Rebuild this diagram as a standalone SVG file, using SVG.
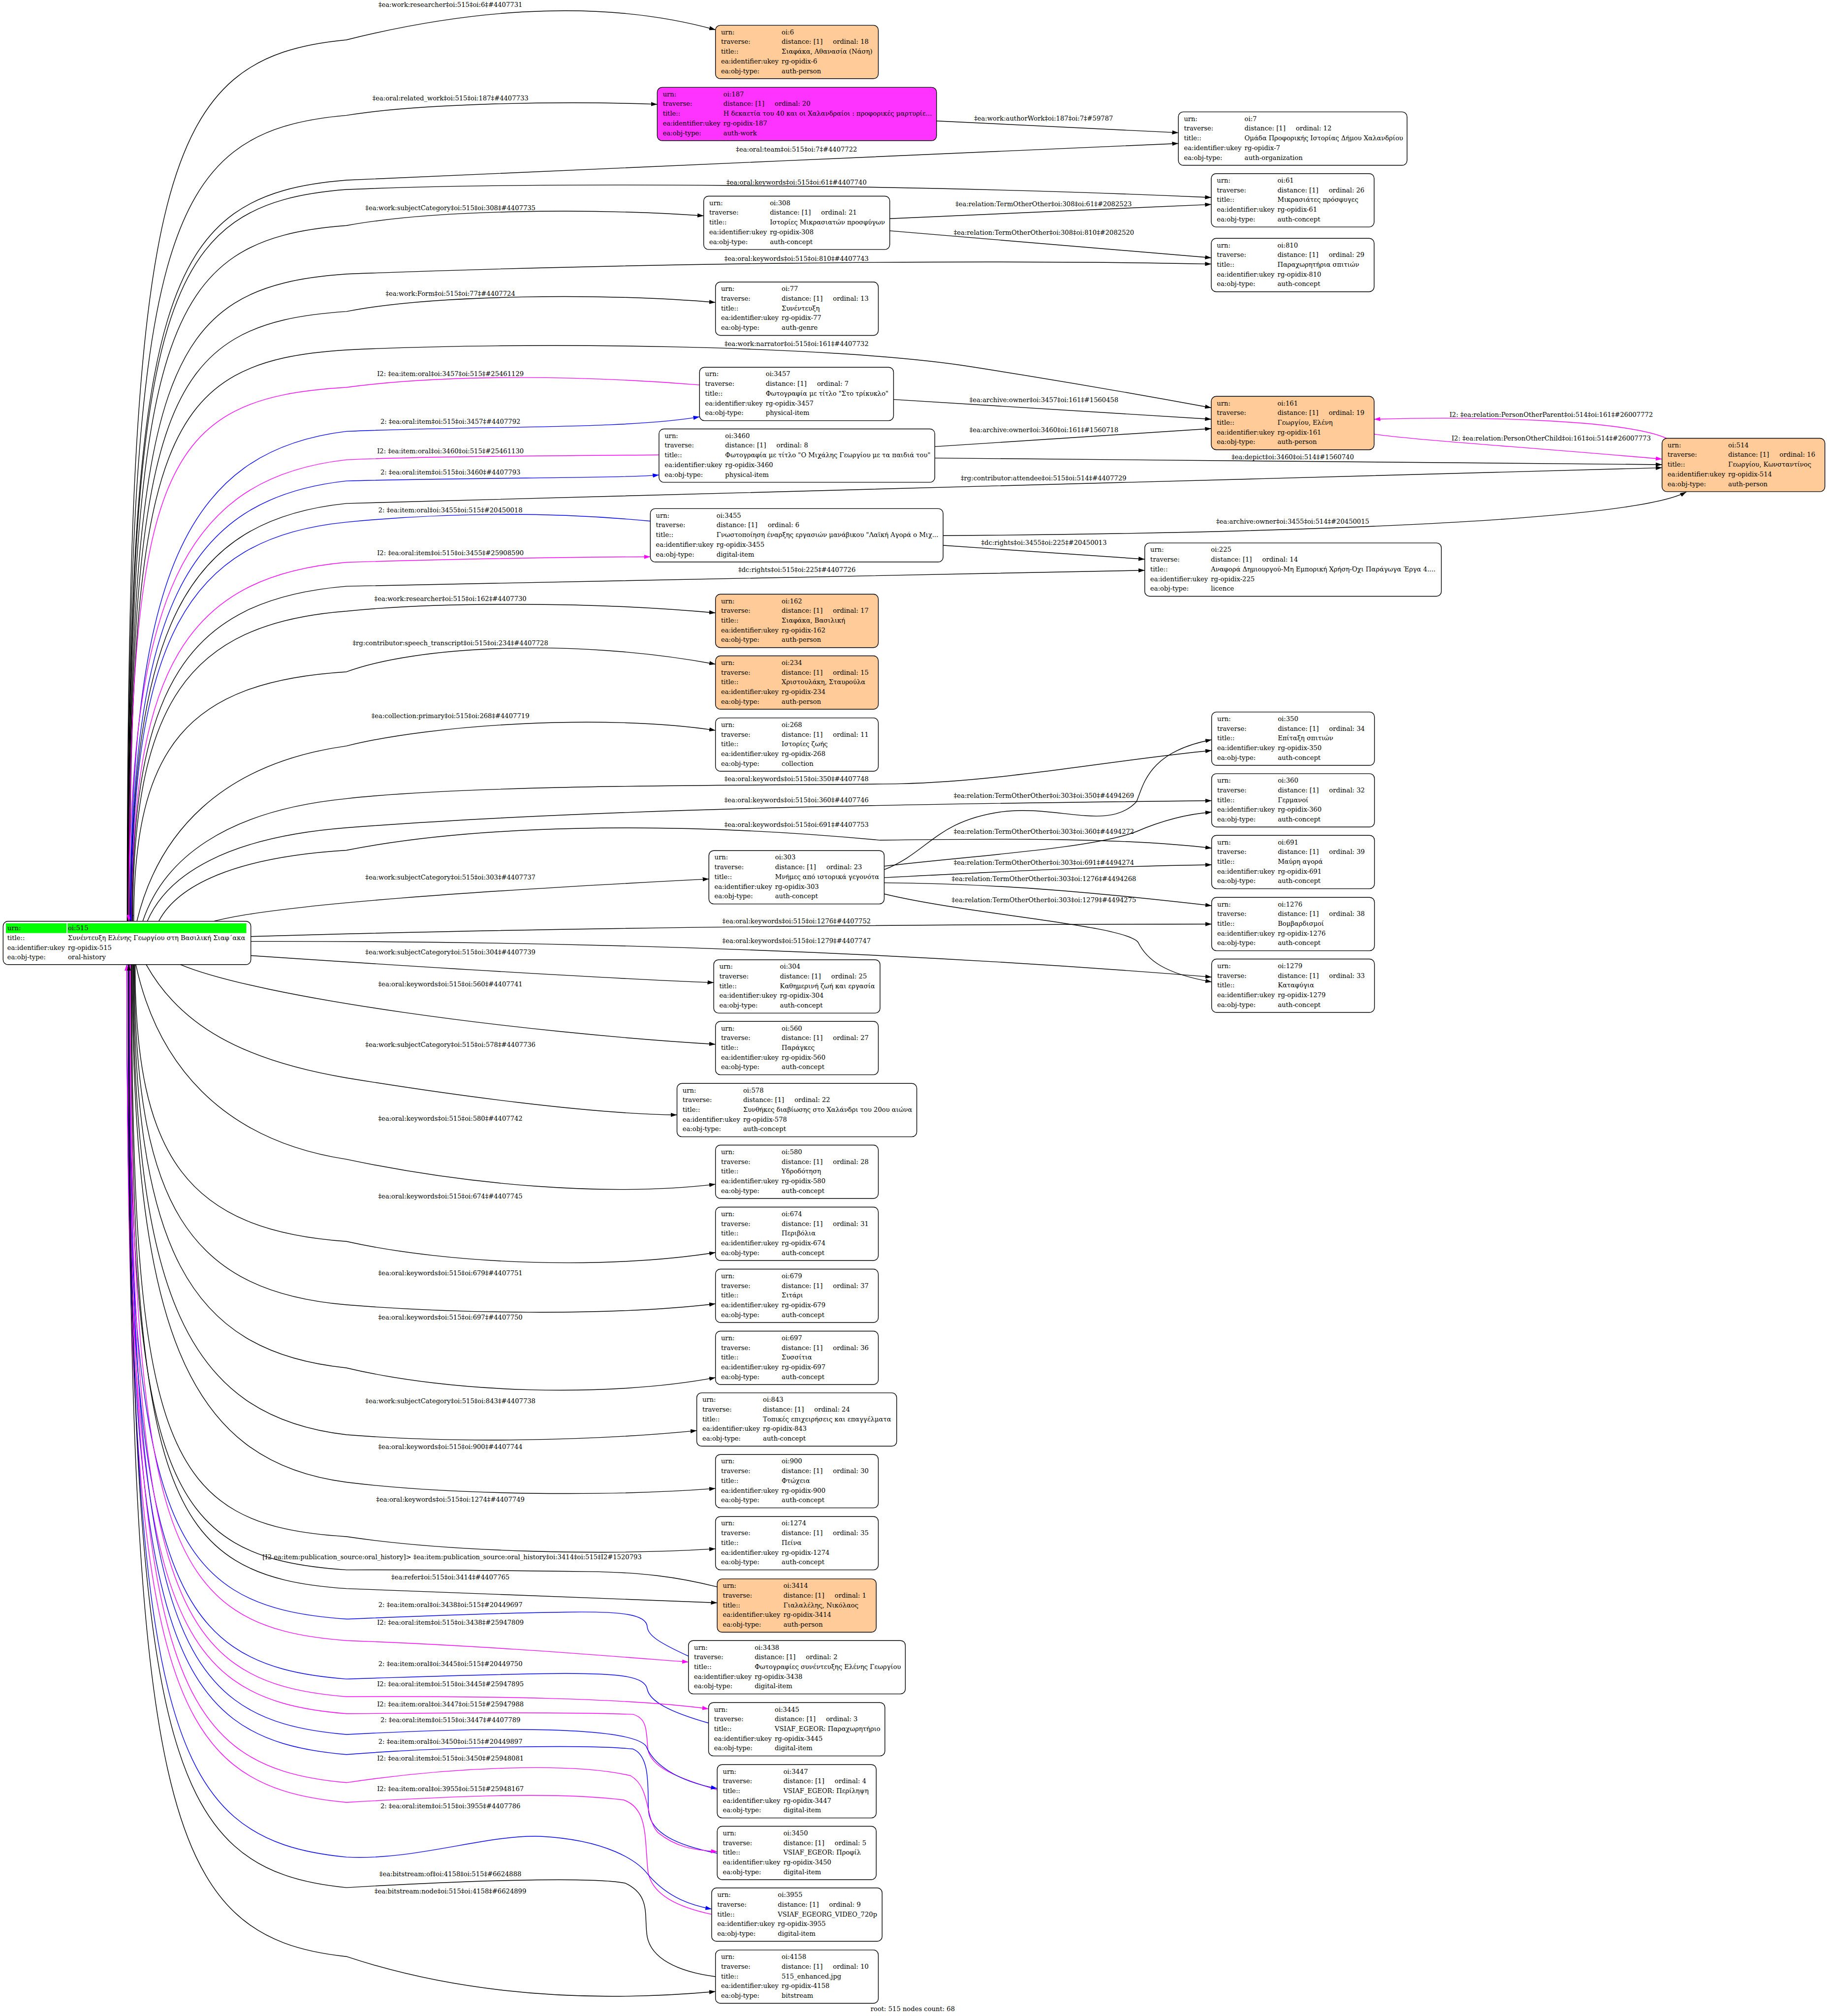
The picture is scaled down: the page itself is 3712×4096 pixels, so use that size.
<svg xmlns="http://www.w3.org/2000/svg" width="3712" height="4096" viewBox="0 0 3712 4096">
<style>
text{font-family:"DejaVu Serif",serif;font-size:18.67px;fill:#000}
.lb{text-anchor:middle}
.nb{fill:#fff;stroke:#000;stroke-width:2}
.pe{fill:#ffcc99}
.mg{fill:#ff33ff}
.e{fill:none;stroke:#000;stroke-width:2;marker-end:url(#ab)}
.b{stroke:#00f;marker-end:url(#au)}
.m{stroke:#f0f;marker-end:url(#am)}
</style>
<defs>
<marker id="ab" markerUnits="userSpaceOnUse" markerWidth="18" markerHeight="12" refX="18" refY="6" orient="auto" viewBox="0 0 18 12"><path d="M0,0 L18,6 L0,12 z" fill="#000"/></marker>
<marker id="au" markerUnits="userSpaceOnUse" markerWidth="18" markerHeight="12" refX="18" refY="6" orient="auto" viewBox="0 0 18 12"><path d="M0,0 L18,6 L0,12 z" fill="#00f"/></marker>
<marker id="am" markerUnits="userSpaceOnUse" markerWidth="18" markerHeight="12" refX="18" refY="6" orient="auto" viewBox="0 0 18 12"><path d="M0,0 L18,6 L0,12 z" fill="#f0f"/></marker>
</defs>
<rect width="3712" height="4096" fill="#fff"/>
<g transform="scale(0.70395)">
<g id="edges">
<path class="e" d="M367,2659 C367,497 462,166 1000,115 C1300,40 1700,-15 2065,86"/>
<path class="e" d="M368,2659 C368,682 463,380 1000,333 C1200,300 1600,290 1897,301"/>
<path class="e" d="M369,2659 C369,841 464,563 1000,520 C1500,498 2800,440 3401,414"/>
<path class="e" d="M2703,349 L3401,383"/>
<path class="e" d="M370,2659 C370,864 465,589 1000,547 C1500,525 2600,530 3496,570"/>
<path class="e" d="M371,2659 C371,952 465,691 1000,651 C1250,605 1700,600 2031,623"/>
<path class="e" d="M2568,631 L3496,590"/>
<path class="e" d="M2568,666 L3496,744"/>
<path class="e" d="M372,2659 C372,1071 466,828 1000,791 C1800,760 2800,748 3496,762"/>
<path class="e" d="M373,2659 C373,1163 467,934 1000,899 C1250,850 1750,845 2065,873"/>
<path class="e" d="M374,2659 C374,1257 468,1043 1000,1010 C1500,985 2400,995 2800,1058 C3100,1105 3350,1150 3496,1177"/>
<path class="e m" d="M2019,1111 C1700,1085 1300,1078 1000,1118 C465,1149 372,1349 372,2659"/>
<path class="e b" d="M376,2659 C376,1669 532,1302 1000,1245 C1400,1228 1800,1240 2019,1203"/>
<path class="e" d="M2579,1153 L3496,1210"/>
<path class="e m" d="M1902,1313 C1500,1316 1200,1318 1000,1327 C529,1380 372,1727 372,2659"/>
<path class="e b" d="M377,2659 C377,1769 533,1439 1000,1388 C1400,1378 1800,1380 1902,1371"/>
<path class="e" d="M2698,1289 L3496,1237"/>
<path class="e" d="M2698,1322 L4797,1341"/>
<path class="e" d="M378,2659 C378,1815 534,1501 1000,1453 C2000,1428 3500,1385 4797,1350"/>
<path class="e m" d="M4810,1265 C4700,1215 4300,1200 3966,1210"/>
<path class="e m" d="M3966,1253 C4080,1270 4400,1290 4797,1325"/>
<path class="e b" d="M1877,1504 C1600,1478 1300,1478 1000,1507 C534,1553 379,1853 379,2659"/>
<path class="e m" d="M380,2659 C380,1934 535,1664 1000,1623 C1400,1610 1700,1608 1877,1607"/>
<path class="e" d="M2722,1546 C3600,1540 4700,1510 4867,1420"/>
<path class="e" d="M2722,1574 L3304,1614"/>
<path class="e" d="M381,2659 C381,1982 536,1731 1000,1692 C1800,1672 2600,1660 3304,1646"/>
<path class="e" d="M383,2659 C383,2033 537,1800 1000,1764 C1250,1738 1700,1735 2065,1769"/>
<path class="e" d="M386,2659 C386,2155 540,1968 1000,1939 C1200,1865 1650,1840 2065,1917"/>
<path class="e" d="M395,2659 C456,2406 637,2204 1000,2153 C1250,2090 1750,2060 2065,2108"/>
<path class="e" d="M412,2659 C471,2482 647,2340 1000,2305 C1400,2260 2300,2268 2600,2262 C2900,2255 3200,2195 3497,2166"/>
<path class="e" d="M425,2659 C483,2524 655,2416 1000,2389 C1700,2335 2600,2320 3497,2311"/>
<path class="e" d="M458,2659 C512,2556 675,2474 1000,2454 C1350,2385 1900,2365 2540,2425 C2900,2420 3250,2418 3497,2448"/>
<path class="e" d="M617,2659 C800,2610 1400,2570 2046,2537"/>
<path class="e" d="M2552,2510 C2680,2460 2700,2370 2891,2343 C3050,2322 3200,2400 3280,2314 C3300,2270 3310,2170 3497,2135"/>
<path class="e" d="M2552,2500 C2800,2470 3150,2450 3280,2400 C3350,2370 3420,2350 3497,2344"/>
<path class="e" d="M2552,2533 C2900,2515 3200,2500 3497,2496"/>
<path class="e" d="M2552,2548 C2900,2550 3200,2580 3497,2614"/>
<path class="e" d="M2552,2580 C2800,2640 3250,2670 3285,2720 C3310,2770 3360,2810 3497,2834"/>
<path class="e" d="M724,2703 C1500,2680 2500,2668 3497,2667"/>
<path class="e" d="M724,2717 C1800,2715 2700,2755 3497,2820"/>
<path class="e" d="M724,2758 C1200,2790 1700,2822 2060,2836"/>
<path class="e" d="M521,2784 C750,2880 1500,2980 2065,3014"/>
<path class="e" d="M422,2784 C520,2960 700,3060 1000,3111 C1300,3160 1700,3215 1954,3218"/>
<path class="e" d="M392,2784 C453,3065 635,3290 1000,3346 C1350,3420 1750,3455 2065,3418"/>
<path class="e" d="M390,2784 C390,3343 543,3551 1000,3583 C1300,3650 1750,3665 2065,3615"/>
<path class="e" d="M388,2784 C388,3471 541,3727 1000,3766 C1300,3790 1750,3800 2065,3763"/>
<path class="e" d="M386,2784 C386,3599 540,3901 1000,3948 C1300,4020 1750,4035 2065,3976"/>
<path class="e" d="M384,2784 C384,3734 538,4087 1000,4141 C1300,4165 1700,4160 2011,4129"/>
<path class="e" d="M382,2784 C382,3830 537,4218 1000,4278 C1300,4315 1750,4320 2065,4296"/>
<path class="e" d="M380,2784 C380,4187 473,4402 1000,4435 C1300,4480 1750,4490 2065,4470"/>
<path class="e" d="M2070,4580 C1950,4550 1850,4538 1700,4536 C1400,4532 1200,4530 1000,4531 C466,4496 372,4269 372,2784"/>
<path class="e" d="M378,2784 C378,4315 471,4549 1000,4585 C1400,4600 1800,4615 2070,4626"/>
<path class="e b" d="M1987,4780 C1900,4740 1870,4720 1868,4695 C1866,4660 1800,4650 1631,4653 C1400,4656 1200,4665 1000,4673 C461,4635 366,4390 366,2784"/>
<path class="e m" d="M376,2784 C376,4442 470,4696 1000,4735 C1400,4750 1700,4775 1987,4797"/>
<path class="e b" d="M2045,4973 C1930,4940 1875,4910 1868,4875 C1860,4840 1800,4830 1631,4830 C1400,4832 1200,4840 1000,4846 C461,4805 366,4537 366,2784"/>
<path class="e m" d="M374,2784 C374,4580 468,4855 1000,4897 C1400,4895 1800,4900 2045,4932"/>
<path class="e m" d="M2070,5166 C1950,5130 1880,5100 1870,5050 C1865,5000 1870,4960 1827,4948 C1600,4940 1200,4945 1000,4946 C461,4903 366,4622 366,2784"/>
<path class="e b" d="M373,2784 C373,4673 467,4962 1000,5006 C1400,4985 1820,4980 1865,5040 C1885,5090 1950,5140 2070,5162"/>
<path class="e b" d="M2070,5349 C1950,5325 1880,5290 1872,5230 C1868,5170 1880,5070 1827,5048 C1700,5035 1300,5040 1000,5064 C461,5018 366,4722 366,2784"/>
<path class="e m" d="M372,2784 C372,4791 466,5098 1000,5145 C1300,5100 1650,5085 1820,5125 C1880,5160 1860,5250 1900,5290 C1950,5330 2000,5340 2070,5344"/>
<path class="e m" d="M2054,5525 C1960,5505 1880,5470 1870,5400 C1860,5300 1870,5220 1800,5195 C1600,5170 1300,5185 1000,5202 C461,5154 366,4839 366,2784"/>
<path class="e b" d="M371,2784 C371,4974 465,5308 1000,5360 C1200,5370 1400,5295 1560,5300 C1750,5310 1840,5370 1870,5410 C1930,5480 2000,5500 2054,5510"/>
<path class="e" d="M2065,5705 C1950,5690 1880,5650 1868,5590 C1858,5530 1880,5470 1804,5435 C1700,5415 1300,5430 1000,5448 C466,5395 372,5048 372,2784"/>
<path class="e" d="M370,2784 C370,5218 464,5590 1000,5647 C1250,5730 1600,5790 2065,5748"/>
</g>
<g id="edge-labels" class="lb">
<text x="1300" y="20">‡ea:work:researcher‡oi:515‡oi:6‡#4407731</text>
<text x="1300" y="290">‡ea:oral:related_work‡oi:515‡oi:187‡#4407733</text>
<text x="3012" y="348">‡ea:work:authorWork‡oi:187‡oi:7‡#59787</text>
<text x="2299" y="438">‡ea:oral:team‡oi:515‡oi:7‡#4407722</text>
<text x="2299" y="532">‡ea:oral:keywords‡oi:515‡oi:61‡#4407740</text>
<text x="1300" y="606">‡ea:work:subjectCategory‡oi:515‡oi:308‡#4407735</text>
<text x="3012" y="595">‡ea:relation:TermOtherOther‡oi:308‡oi:61‡#2082523</text>
<text x="3013" y="678">‡ea:relation:TermOtherOther‡oi:308‡oi:810‡#2082520</text>
<text x="2299" y="753">‡ea:oral:keywords‡oi:515‡oi:810‡#4407743</text>
<text x="1300" y="854">‡ea:work:Form‡oi:515‡oi:77‡#4407724</text>
<text x="2299" y="999">‡ea:work:narrator‡oi:515‡oi:161‡#4407732</text>
<text x="1300" y="1085">I2: ‡ea:item:oral‡oi:3457‡oi:515‡#25461129</text>
<text x="3013" y="1160">‡ea:archive:owner‡oi:3457‡oi:161‡#1560458</text>
<text x="4477" y="1203">I2: ‡ea:relation:PersonOtherParent‡oi:514‡oi:161‡#26007772</text>
<text x="1300" y="1223">2: ‡ea:oral:item‡oi:515‡oi:3457‡#4407792</text>
<text x="3013" y="1247">‡ea:archive:owner‡oi:3460‡oi:161‡#1560718</text>
<text x="4477" y="1272">I2: ‡ea:relation:PersonOtherChild‡oi:161‡oi:514‡#26007773</text>
<text x="1300" y="1309">I2: ‡ea:item:oral‡oi:3460‡oi:515‡#25461130</text>
<text x="3731" y="1326">‡ea:depict‡oi:3460‡oi:514‡#1560740</text>
<text x="1300" y="1369">2: ‡ea:oral:item‡oi:515‡oi:3460‡#4407793</text>
<text x="3012" y="1387">‡rg:contributor:attendee‡oi:515‡oi:514‡#4407729</text>
<text x="1300" y="1479">2: ‡ea:item:oral‡oi:3455‡oi:515‡#20450018</text>
<text x="3731" y="1511">‡ea:archive:owner‡oi:3455‡oi:514‡#20450015</text>
<text x="3013" y="1572">‡dc:rights‡oi:3455‡oi:225‡#20450013</text>
<text x="1300" y="1602">I2: ‡ea:oral:item‡oi:515‡oi:3455‡#25908590</text>
<text x="2300" y="1650">‡dc:rights‡oi:515‡oi:225‡#4407726</text>
<text x="1300" y="1735">‡ea:work:researcher‡oi:515‡oi:162‡#4407730</text>
<text x="1300" y="1862">‡rg:contributor:speech_transcript‡oi:515‡oi:234‡#4407728</text>
<text x="1300" y="2073">‡ea:collection:primary‡oi:515‡oi:268‡#4407719</text>
<text x="2299" y="2254">‡ea:oral:keywords‡oi:515‡oi:350‡#4407748</text>
<text x="3013" y="2303">‡ea:relation:TermOtherOther‡oi:303‡oi:350‡#4494269</text>
<text x="2299" y="2315">‡ea:oral:keywords‡oi:515‡oi:360‡#4407746</text>
<text x="2299" y="2386">‡ea:oral:keywords‡oi:515‡oi:691‡#4407753</text>
<text x="3013" y="2406">‡ea:relation:TermOtherOther‡oi:303‡oi:360‡#4494272</text>
<text x="3013" y="2496">‡ea:relation:TermOtherOther‡oi:303‡oi:691‡#4494274</text>
<text x="1300" y="2538">‡ea:work:subjectCategory‡oi:515‡oi:303‡#4407737</text>
<text x="3013" y="2543">‡ea:relation:TermOtherOther‡oi:303‡oi:1276‡#4494268</text>
<text x="3013" y="2604">‡ea:relation:TermOtherOther‡oi:303‡oi:1279‡#4494275</text>
<text x="2299" y="2665">‡ea:oral:keywords‡oi:515‡oi:1276‡#4407752</text>
<text x="2299" y="2722">‡ea:oral:keywords‡oi:515‡oi:1279‡#4407747</text>
<text x="1300" y="2755">‡ea:work:subjectCategory‡oi:515‡oi:304‡#4407739</text>
<text x="1300" y="2847">‡ea:oral:keywords‡oi:515‡oi:560‡#4407741</text>
<text x="1300" y="3021">‡ea:work:subjectCategory‡oi:515‡oi:578‡#4407736</text>
<text x="1300" y="3235">‡ea:oral:keywords‡oi:515‡oi:580‡#4407742</text>
<text x="1300" y="3459">‡ea:oral:keywords‡oi:515‡oi:674‡#4407745</text>
<text x="1300" y="3681">‡ea:oral:keywords‡oi:515‡oi:679‡#4407751</text>
<text x="1300" y="3809">‡ea:oral:keywords‡oi:515‡oi:697‡#4407750</text>
<text x="1300" y="4050">‡ea:work:subjectCategory‡oi:515‡oi:843‡#4407738</text>
<text x="1300" y="4182">‡ea:oral:keywords‡oi:515‡oi:900‡#4407744</text>
<text x="1300" y="4334">‡ea:oral:keywords‡oi:515‡oi:1274‡#4407749</text>
<text x="1852" y="4501" style="text-anchor:end">[I2 ea:item:publication_source:oral_history]&gt; ‡ea:item:publication_source:oral_history‡oi:3414‡oi:515‡I2#1520793</text>
<text x="1300" y="4558">‡ea:refer‡oi:515‡oi:3414‡#4407765</text>
<text x="1300" y="4638">2: ‡ea:item:oral‡oi:3438‡oi:515‡#20449697</text>
<text x="1300" y="4689">I2: ‡ea:oral:item‡oi:515‡oi:3438‡#25947809</text>
<text x="1300" y="4809">2: ‡ea:item:oral‡oi:3445‡oi:515‡#20449750</text>
<text x="1300" y="4867">I2: ‡ea:oral:item‡oi:515‡oi:3445‡#25947895</text>
<text x="1300" y="4925">I2: ‡ea:item:oral‡oi:3447‡oi:515‡#25947988</text>
<text x="1300" y="4971">2: ‡ea:oral:item‡oi:515‡oi:3447‡#4407789</text>
<text x="1300" y="5033">2: ‡ea:item:oral‡oi:3450‡oi:515‡#20449897</text>
<text x="1300" y="5082">I2: ‡ea:oral:item‡oi:515‡oi:3450‡#25948081</text>
<text x="1300" y="5170">I2: ‡ea:item:oral‡oi:3955‡oi:515‡#25948167</text>
<text x="1300" y="5219">2: ‡ea:oral:item‡oi:515‡oi:3955‡#4407786</text>
<text x="1300" y="5415">‡ea:bitstream:of‡oi:4158‡oi:515‡#6624888</text>
<text x="1300" y="5465">‡ea:bitstream:node‡oi:515‡oi:4158‡#6624899</text>
</g>
<g id="node-oi515" transform="translate(9,2659)">
<rect class="nb" width="715" height="125" rx="14"/>
<rect x="8" y="6" width="175" height="28" fill="#00ff00"/>
<rect x="186" y="6" width="516" height="28" fill="#00ff00"/>
<text><tspan x="12" y="26">urn:</tspan><tspan x="187" y="26">oi:515</tspan><tspan x="12" y="54">title::</tspan><tspan x="187" y="54">Συνέντευξη Ελένης Γεωργίου στη Βασιλική Σιαφ΄ακα</tspan><tspan x="12" y="82">ea:identifier:ukey</tspan><tspan x="187" y="82">rg-opidix-515</tspan><tspan x="12" y="110">ea:obj-type:</tspan><tspan x="187" y="110">oral-history</tspan></text>
</g>
<g id="node-oi6" transform="translate(2065,73)"><rect class="nb pe" width="470" height="154" rx="14"/><text><tspan x="16" y="26">urn:</tspan><tspan x="191" y="26">oi:6</tspan><tspan x="16" y="54">traverse:</tspan><tspan x="191" y="54">distance: [1]</tspan><tspan x="339" y="54">ordinal: 18</tspan><tspan x="16" y="82">title::</tspan><tspan x="191" y="82">Σιαφάκα, Αθανασία (Νάση)</tspan><tspan x="16" y="110">ea:identifier:ukey</tspan><tspan x="191" y="110">rg-opidix-6</tspan><tspan x="16" y="138">ea:obj-type:</tspan><tspan x="191" y="138">auth-person</tspan></text></g>
<g id="node-oi187" transform="translate(1897,252)"><rect class="nb mg" width="806" height="154" rx="14"/><text><tspan x="16" y="26">urn:</tspan><tspan x="191" y="26">oi:187</tspan><tspan x="16" y="54">traverse:</tspan><tspan x="191" y="54">distance: [1]</tspan><tspan x="339" y="54">ordinal: 20</tspan><tspan x="16" y="82">title::</tspan><tspan x="191" y="82">Η δεκαετία του 40 και οι Χαλανδραίοι : προφορικές μαρτυρίε...</tspan><tspan x="16" y="110">ea:identifier:ukey</tspan><tspan x="191" y="110">rg-opidix-187</tspan><tspan x="16" y="138">ea:obj-type:</tspan><tspan x="191" y="138">auth-work</tspan></text></g>
<g id="node-oi7" transform="translate(3401,323)"><rect class="nb" width="660" height="154" rx="14"/><text><tspan x="16" y="26">urn:</tspan><tspan x="191" y="26">oi:7</tspan><tspan x="16" y="54">traverse:</tspan><tspan x="191" y="54">distance: [1]</tspan><tspan x="339" y="54">ordinal: 12</tspan><tspan x="16" y="82">title::</tspan><tspan x="191" y="82">Ομάδα Προφορικής Ιστορίας Δήμου Χαλανδρίου</tspan><tspan x="16" y="110">ea:identifier:ukey</tspan><tspan x="191" y="110">rg-opidix-7</tspan><tspan x="16" y="138">ea:obj-type:</tspan><tspan x="191" y="138">auth-organization</tspan></text></g>
<g id="node-oi61" transform="translate(3496,501)"><rect class="nb" width="470" height="154" rx="14"/><text><tspan x="16" y="26">urn:</tspan><tspan x="191" y="26">oi:61</tspan><tspan x="16" y="54">traverse:</tspan><tspan x="191" y="54">distance: [1]</tspan><tspan x="339" y="54">ordinal: 26</tspan><tspan x="16" y="82">title::</tspan><tspan x="191" y="82">Μικρασιάτες πρόσφυγες</tspan><tspan x="16" y="110">ea:identifier:ukey</tspan><tspan x="191" y="110">rg-opidix-61</tspan><tspan x="16" y="138">ea:obj-type:</tspan><tspan x="191" y="138">auth-concept</tspan></text></g>
<g id="node-oi308" transform="translate(2031,566)"><rect class="nb" width="537" height="154" rx="14"/><text><tspan x="16" y="26">urn:</tspan><tspan x="191" y="26">oi:308</tspan><tspan x="16" y="54">traverse:</tspan><tspan x="191" y="54">distance: [1]</tspan><tspan x="339" y="54">ordinal: 21</tspan><tspan x="16" y="82">title::</tspan><tspan x="191" y="82">Ιστορίες Μικρασιατών προσφύγων</tspan><tspan x="16" y="110">ea:identifier:ukey</tspan><tspan x="191" y="110">rg-opidix-308</tspan><tspan x="16" y="138">ea:obj-type:</tspan><tspan x="191" y="138">auth-concept</tspan></text></g>
<g id="node-oi810" transform="translate(3496,688)"><rect class="nb" width="470" height="154" rx="14"/><text><tspan x="16" y="26">urn:</tspan><tspan x="191" y="26">oi:810</tspan><tspan x="16" y="54">traverse:</tspan><tspan x="191" y="54">distance: [1]</tspan><tspan x="339" y="54">ordinal: 29</tspan><tspan x="16" y="82">title::</tspan><tspan x="191" y="82">Παραχωρητήρια σπιτιών</tspan><tspan x="16" y="110">ea:identifier:ukey</tspan><tspan x="191" y="110">rg-opidix-810</tspan><tspan x="16" y="138">ea:obj-type:</tspan><tspan x="191" y="138">auth-concept</tspan></text></g>
<g id="node-oi77" transform="translate(2065,814)"><rect class="nb" width="470" height="154" rx="14"/><text><tspan x="16" y="26">urn:</tspan><tspan x="191" y="26">oi:77</tspan><tspan x="16" y="54">traverse:</tspan><tspan x="191" y="54">distance: [1]</tspan><tspan x="339" y="54">ordinal: 13</tspan><tspan x="16" y="82">title::</tspan><tspan x="191" y="82">Συνέντευξη</tspan><tspan x="16" y="110">ea:identifier:ukey</tspan><tspan x="191" y="110">rg-opidix-77</tspan><tspan x="16" y="138">ea:obj-type:</tspan><tspan x="191" y="138">auth-genre</tspan></text></g>
<g id="node-oi3457" transform="translate(2019,1060)"><rect class="nb" width="560" height="154" rx="14"/><text><tspan x="16" y="26">urn:</tspan><tspan x="191" y="26">oi:3457</tspan><tspan x="16" y="54">traverse:</tspan><tspan x="191" y="54">distance: [1]</tspan><tspan x="339" y="54">ordinal: 7</tspan><tspan x="16" y="82">title::</tspan><tspan x="191" y="82">Φωτογραφία με τίτλο "Στο τρίκυκλο"</tspan><tspan x="16" y="110">ea:identifier:ukey</tspan><tspan x="191" y="110">rg-opidix-3457</tspan><tspan x="16" y="138">ea:obj-type:</tspan><tspan x="191" y="138">physical-item</tspan></text></g>
<g id="node-oi161" transform="translate(3496,1144)"><rect class="nb pe" width="470" height="154" rx="14"/><text><tspan x="16" y="26">urn:</tspan><tspan x="191" y="26">oi:161</tspan><tspan x="16" y="54">traverse:</tspan><tspan x="191" y="54">distance: [1]</tspan><tspan x="339" y="54">ordinal: 19</tspan><tspan x="16" y="82">title::</tspan><tspan x="191" y="82">Γεωργίου, Ελένη</tspan><tspan x="16" y="110">ea:identifier:ukey</tspan><tspan x="191" y="110">rg-opidix-161</tspan><tspan x="16" y="138">ea:obj-type:</tspan><tspan x="191" y="138">auth-person</tspan></text></g>
<g id="node-oi3460" transform="translate(1902,1238)"><rect class="nb" width="796" height="154" rx="14"/><text><tspan x="16" y="26">urn:</tspan><tspan x="191" y="26">oi:3460</tspan><tspan x="16" y="54">traverse:</tspan><tspan x="191" y="54">distance: [1]</tspan><tspan x="339" y="54">ordinal: 8</tspan><tspan x="16" y="82">title::</tspan><tspan x="191" y="82">Φωτογραφία με τίτλο "Ο Μιχάλης Γεωργίου με τα παιδιά του"</tspan><tspan x="16" y="110">ea:identifier:ukey</tspan><tspan x="191" y="110">rg-opidix-3460</tspan><tspan x="16" y="138">ea:obj-type:</tspan><tspan x="191" y="138">physical-item</tspan></text></g>
<g id="node-oi514" transform="translate(4797,1265)"><rect class="nb pe" width="470" height="154" rx="14"/><text><tspan x="16" y="26">urn:</tspan><tspan x="191" y="26">oi:514</tspan><tspan x="16" y="54">traverse:</tspan><tspan x="191" y="54">distance: [1]</tspan><tspan x="339" y="54">ordinal: 16</tspan><tspan x="16" y="82">title::</tspan><tspan x="191" y="82">Γεωργίου, Κωνσταντίνος</tspan><tspan x="16" y="110">ea:identifier:ukey</tspan><tspan x="191" y="110">rg-opidix-514</tspan><tspan x="16" y="138">ea:obj-type:</tspan><tspan x="191" y="138">auth-person</tspan></text></g>
<g id="node-oi3455" transform="translate(1877,1468)"><rect class="nb" width="845" height="154" rx="14"/><text><tspan x="16" y="26">urn:</tspan><tspan x="191" y="26">oi:3455</tspan><tspan x="16" y="54">traverse:</tspan><tspan x="191" y="54">distance: [1]</tspan><tspan x="339" y="54">ordinal: 6</tspan><tspan x="16" y="82">title::</tspan><tspan x="191" y="82">Γνωστοποίηση έναρξης εργασιών μανάβικου "Λαϊκή Αγορά ο Μιχ...</tspan><tspan x="16" y="110">ea:identifier:ukey</tspan><tspan x="191" y="110">rg-opidix-3455</tspan><tspan x="16" y="138">ea:obj-type:</tspan><tspan x="191" y="138">digital-item</tspan></text></g>
<g id="node-oi225" transform="translate(3304,1567)"><rect class="nb" width="856" height="154" rx="14"/><text><tspan x="16" y="26">urn:</tspan><tspan x="191" y="26">oi:225</tspan><tspan x="16" y="54">traverse:</tspan><tspan x="191" y="54">distance: [1]</tspan><tspan x="339" y="54">ordinal: 14</tspan><tspan x="16" y="82">title::</tspan><tspan x="191" y="82">Αναφορά Δημιουργού-Μη Εμπορική Χρήση-Όχι Παράγωγα Έργα 4....</tspan><tspan x="16" y="110">ea:identifier:ukey</tspan><tspan x="191" y="110">rg-opidix-225</tspan><tspan x="16" y="138">ea:obj-type:</tspan><tspan x="191" y="138">licence</tspan></text></g>
<g id="node-oi162" transform="translate(2065,1715)"><rect class="nb pe" width="470" height="154" rx="14"/><text><tspan x="16" y="26">urn:</tspan><tspan x="191" y="26">oi:162</tspan><tspan x="16" y="54">traverse:</tspan><tspan x="191" y="54">distance: [1]</tspan><tspan x="339" y="54">ordinal: 17</tspan><tspan x="16" y="82">title::</tspan><tspan x="191" y="82">Σιαφάκα, Βασιλική</tspan><tspan x="16" y="110">ea:identifier:ukey</tspan><tspan x="191" y="110">rg-opidix-162</tspan><tspan x="16" y="138">ea:obj-type:</tspan><tspan x="191" y="138">auth-person</tspan></text></g>
<g id="node-oi234" transform="translate(2065,1893)"><rect class="nb pe" width="470" height="154" rx="14"/><text><tspan x="16" y="26">urn:</tspan><tspan x="191" y="26">oi:234</tspan><tspan x="16" y="54">traverse:</tspan><tspan x="191" y="54">distance: [1]</tspan><tspan x="339" y="54">ordinal: 15</tspan><tspan x="16" y="82">title::</tspan><tspan x="191" y="82">Χριστουλάκη, Σταυρούλα</tspan><tspan x="16" y="110">ea:identifier:ukey</tspan><tspan x="191" y="110">rg-opidix-234</tspan><tspan x="16" y="138">ea:obj-type:</tspan><tspan x="191" y="138">auth-person</tspan></text></g>
<g id="node-oi268" transform="translate(2065,2072)"><rect class="nb" width="470" height="154" rx="14"/><text><tspan x="16" y="26">urn:</tspan><tspan x="191" y="26">oi:268</tspan><tspan x="16" y="54">traverse:</tspan><tspan x="191" y="54">distance: [1]</tspan><tspan x="339" y="54">ordinal: 11</tspan><tspan x="16" y="82">title::</tspan><tspan x="191" y="82">Ιστορίες ζωής</tspan><tspan x="16" y="110">ea:identifier:ukey</tspan><tspan x="191" y="110">rg-opidix-268</tspan><tspan x="16" y="138">ea:obj-type:</tspan><tspan x="191" y="138">collection</tspan></text></g>
<g id="node-oi350" transform="translate(3497,2055)"><rect class="nb" width="470" height="154" rx="14"/><text><tspan x="16" y="26">urn:</tspan><tspan x="191" y="26">oi:350</tspan><tspan x="16" y="54">traverse:</tspan><tspan x="191" y="54">distance: [1]</tspan><tspan x="339" y="54">ordinal: 34</tspan><tspan x="16" y="82">title::</tspan><tspan x="191" y="82">Επίταξη σπιτιών</tspan><tspan x="16" y="110">ea:identifier:ukey</tspan><tspan x="191" y="110">rg-opidix-350</tspan><tspan x="16" y="138">ea:obj-type:</tspan><tspan x="191" y="138">auth-concept</tspan></text></g>
<g id="node-oi360" transform="translate(3497,2233)"><rect class="nb" width="470" height="154" rx="14"/><text><tspan x="16" y="26">urn:</tspan><tspan x="191" y="26">oi:360</tspan><tspan x="16" y="54">traverse:</tspan><tspan x="191" y="54">distance: [1]</tspan><tspan x="339" y="54">ordinal: 32</tspan><tspan x="16" y="82">title::</tspan><tspan x="191" y="82">Γερμανοί</tspan><tspan x="16" y="110">ea:identifier:ukey</tspan><tspan x="191" y="110">rg-opidix-360</tspan><tspan x="16" y="138">ea:obj-type:</tspan><tspan x="191" y="138">auth-concept</tspan></text></g>
<g id="node-oi691" transform="translate(3497,2411)"><rect class="nb" width="470" height="154" rx="14"/><text><tspan x="16" y="26">urn:</tspan><tspan x="191" y="26">oi:691</tspan><tspan x="16" y="54">traverse:</tspan><tspan x="191" y="54">distance: [1]</tspan><tspan x="339" y="54">ordinal: 39</tspan><tspan x="16" y="82">title::</tspan><tspan x="191" y="82">Μαύρη αγορά</tspan><tspan x="16" y="110">ea:identifier:ukey</tspan><tspan x="191" y="110">rg-opidix-691</tspan><tspan x="16" y="138">ea:obj-type:</tspan><tspan x="191" y="138">auth-concept</tspan></text></g>
<g id="node-oi303" transform="translate(2046,2455)"><rect class="nb" width="506" height="154" rx="14"/><text><tspan x="16" y="26">urn:</tspan><tspan x="191" y="26">oi:303</tspan><tspan x="16" y="54">traverse:</tspan><tspan x="191" y="54">distance: [1]</tspan><tspan x="339" y="54">ordinal: 23</tspan><tspan x="16" y="82">title::</tspan><tspan x="191" y="82">Μνήμες από ιστορικά γεγονότα</tspan><tspan x="16" y="110">ea:identifier:ukey</tspan><tspan x="191" y="110">rg-opidix-303</tspan><tspan x="16" y="138">ea:obj-type:</tspan><tspan x="191" y="138">auth-concept</tspan></text></g>
<g id="node-oi1276" transform="translate(3497,2590)"><rect class="nb" width="470" height="154" rx="14"/><text><tspan x="16" y="26">urn:</tspan><tspan x="191" y="26">oi:1276</tspan><tspan x="16" y="54">traverse:</tspan><tspan x="191" y="54">distance: [1]</tspan><tspan x="339" y="54">ordinal: 38</tspan><tspan x="16" y="82">title::</tspan><tspan x="191" y="82">Βομβαρδισμοί</tspan><tspan x="16" y="110">ea:identifier:ukey</tspan><tspan x="191" y="110">rg-opidix-1276</tspan><tspan x="16" y="138">ea:obj-type:</tspan><tspan x="191" y="138">auth-concept</tspan></text></g>
<g id="node-oi1279" transform="translate(3497,2768)"><rect class="nb" width="470" height="154" rx="14"/><text><tspan x="16" y="26">urn:</tspan><tspan x="191" y="26">oi:1279</tspan><tspan x="16" y="54">traverse:</tspan><tspan x="191" y="54">distance: [1]</tspan><tspan x="339" y="54">ordinal: 33</tspan><tspan x="16" y="82">title::</tspan><tspan x="191" y="82">Καταφύγια</tspan><tspan x="16" y="110">ea:identifier:ukey</tspan><tspan x="191" y="110">rg-opidix-1279</tspan><tspan x="16" y="138">ea:obj-type:</tspan><tspan x="191" y="138">auth-concept</tspan></text></g>
<g id="node-oi304" transform="translate(2060,2770)"><rect class="nb" width="480" height="154" rx="14"/><text><tspan x="16" y="26">urn:</tspan><tspan x="191" y="26">oi:304</tspan><tspan x="16" y="54">traverse:</tspan><tspan x="191" y="54">distance: [1]</tspan><tspan x="339" y="54">ordinal: 25</tspan><tspan x="16" y="82">title::</tspan><tspan x="191" y="82">Καθημερινή ζωή και εργασία</tspan><tspan x="16" y="110">ea:identifier:ukey</tspan><tspan x="191" y="110">rg-opidix-304</tspan><tspan x="16" y="138">ea:obj-type:</tspan><tspan x="191" y="138">auth-concept</tspan></text></g>
<g id="node-oi560" transform="translate(2065,2948)"><rect class="nb" width="470" height="154" rx="14"/><text><tspan x="16" y="26">urn:</tspan><tspan x="191" y="26">oi:560</tspan><tspan x="16" y="54">traverse:</tspan><tspan x="191" y="54">distance: [1]</tspan><tspan x="339" y="54">ordinal: 27</tspan><tspan x="16" y="82">title::</tspan><tspan x="191" y="82">Παράγκες</tspan><tspan x="16" y="110">ea:identifier:ukey</tspan><tspan x="191" y="110">rg-opidix-560</tspan><tspan x="16" y="138">ea:obj-type:</tspan><tspan x="191" y="138">auth-concept</tspan></text></g>
<g id="node-oi578" transform="translate(1954,3127)"><rect class="nb" width="692" height="154" rx="14"/><text><tspan x="16" y="26">urn:</tspan><tspan x="191" y="26">oi:578</tspan><tspan x="16" y="54">traverse:</tspan><tspan x="191" y="54">distance: [1]</tspan><tspan x="339" y="54">ordinal: 22</tspan><tspan x="16" y="82">title::</tspan><tspan x="191" y="82">Συνθήκες διαβίωσης στο Χαλάνδρι του 20ου αιώνα</tspan><tspan x="16" y="110">ea:identifier:ukey</tspan><tspan x="191" y="110">rg-opidix-578</tspan><tspan x="16" y="138">ea:obj-type:</tspan><tspan x="191" y="138">auth-concept</tspan></text></g>
<g id="node-oi580" transform="translate(2065,3305)"><rect class="nb" width="470" height="154" rx="14"/><text><tspan x="16" y="26">urn:</tspan><tspan x="191" y="26">oi:580</tspan><tspan x="16" y="54">traverse:</tspan><tspan x="191" y="54">distance: [1]</tspan><tspan x="339" y="54">ordinal: 28</tspan><tspan x="16" y="82">title::</tspan><tspan x="191" y="82">Υδροδότηση</tspan><tspan x="16" y="110">ea:identifier:ukey</tspan><tspan x="191" y="110">rg-opidix-580</tspan><tspan x="16" y="138">ea:obj-type:</tspan><tspan x="191" y="138">auth-concept</tspan></text></g>
<g id="node-oi674" transform="translate(2065,3484)"><rect class="nb" width="470" height="154" rx="14"/><text><tspan x="16" y="26">urn:</tspan><tspan x="191" y="26">oi:674</tspan><tspan x="16" y="54">traverse:</tspan><tspan x="191" y="54">distance: [1]</tspan><tspan x="339" y="54">ordinal: 31</tspan><tspan x="16" y="82">title::</tspan><tspan x="191" y="82">Περιβόλια</tspan><tspan x="16" y="110">ea:identifier:ukey</tspan><tspan x="191" y="110">rg-opidix-674</tspan><tspan x="16" y="138">ea:obj-type:</tspan><tspan x="191" y="138">auth-concept</tspan></text></g>
<g id="node-oi679" transform="translate(2065,3663)"><rect class="nb" width="470" height="154" rx="14"/><text><tspan x="16" y="26">urn:</tspan><tspan x="191" y="26">oi:679</tspan><tspan x="16" y="54">traverse:</tspan><tspan x="191" y="54">distance: [1]</tspan><tspan x="339" y="54">ordinal: 37</tspan><tspan x="16" y="82">title::</tspan><tspan x="191" y="82">Σιτάρι</tspan><tspan x="16" y="110">ea:identifier:ukey</tspan><tspan x="191" y="110">rg-opidix-679</tspan><tspan x="16" y="138">ea:obj-type:</tspan><tspan x="191" y="138">auth-concept</tspan></text></g>
<g id="node-oi697" transform="translate(2065,3842)"><rect class="nb" width="470" height="154" rx="14"/><text><tspan x="16" y="26">urn:</tspan><tspan x="191" y="26">oi:697</tspan><tspan x="16" y="54">traverse:</tspan><tspan x="191" y="54">distance: [1]</tspan><tspan x="339" y="54">ordinal: 36</tspan><tspan x="16" y="82">title::</tspan><tspan x="191" y="82">Συσσίτια</tspan><tspan x="16" y="110">ea:identifier:ukey</tspan><tspan x="191" y="110">rg-opidix-697</tspan><tspan x="16" y="138">ea:obj-type:</tspan><tspan x="191" y="138">auth-concept</tspan></text></g>
<g id="node-oi843" transform="translate(2011,4020)"><rect class="nb" width="577" height="154" rx="14"/><text><tspan x="16" y="26">urn:</tspan><tspan x="191" y="26">oi:843</tspan><tspan x="16" y="54">traverse:</tspan><tspan x="191" y="54">distance: [1]</tspan><tspan x="339" y="54">ordinal: 24</tspan><tspan x="16" y="82">title::</tspan><tspan x="191" y="82">Τοπικές επιχειρήσεις και επαγγέλματα</tspan><tspan x="16" y="110">ea:identifier:ukey</tspan><tspan x="191" y="110">rg-opidix-843</tspan><tspan x="16" y="138">ea:obj-type:</tspan><tspan x="191" y="138">auth-concept</tspan></text></g>
<g id="node-oi900" transform="translate(2065,4198)"><rect class="nb" width="470" height="154" rx="14"/><text><tspan x="16" y="26">urn:</tspan><tspan x="191" y="26">oi:900</tspan><tspan x="16" y="54">traverse:</tspan><tspan x="191" y="54">distance: [1]</tspan><tspan x="339" y="54">ordinal: 30</tspan><tspan x="16" y="82">title::</tspan><tspan x="191" y="82">Φτώχεια</tspan><tspan x="16" y="110">ea:identifier:ukey</tspan><tspan x="191" y="110">rg-opidix-900</tspan><tspan x="16" y="138">ea:obj-type:</tspan><tspan x="191" y="138">auth-concept</tspan></text></g>
<g id="node-oi1274" transform="translate(2065,4377)"><rect class="nb" width="470" height="154" rx="14"/><text><tspan x="16" y="26">urn:</tspan><tspan x="191" y="26">oi:1274</tspan><tspan x="16" y="54">traverse:</tspan><tspan x="191" y="54">distance: [1]</tspan><tspan x="339" y="54">ordinal: 35</tspan><tspan x="16" y="82">title::</tspan><tspan x="191" y="82">Πείνα</tspan><tspan x="16" y="110">ea:identifier:ukey</tspan><tspan x="191" y="110">rg-opidix-1274</tspan><tspan x="16" y="138">ea:obj-type:</tspan><tspan x="191" y="138">auth-concept</tspan></text></g>
<g id="node-oi3414" transform="translate(2070,4557)"><rect class="nb pe" width="459" height="154" rx="14"/><text><tspan x="16" y="26">urn:</tspan><tspan x="191" y="26">oi:3414</tspan><tspan x="16" y="54">traverse:</tspan><tspan x="191" y="54">distance: [1]</tspan><tspan x="339" y="54">ordinal: 1</tspan><tspan x="16" y="82">title::</tspan><tspan x="191" y="82">Γιαλαλέλης, Νικόλαος</tspan><tspan x="16" y="110">ea:identifier:ukey</tspan><tspan x="191" y="110">rg-opidix-3414</tspan><tspan x="16" y="138">ea:obj-type:</tspan><tspan x="191" y="138">auth-person</tspan></text></g>
<g id="node-oi3438" transform="translate(1987,4735)"><rect class="nb" width="626" height="154" rx="14"/><text><tspan x="16" y="26">urn:</tspan><tspan x="191" y="26">oi:3438</tspan><tspan x="16" y="54">traverse:</tspan><tspan x="191" y="54">distance: [1]</tspan><tspan x="339" y="54">ordinal: 2</tspan><tspan x="16" y="82">title::</tspan><tspan x="191" y="82">Φωτογραφίες συνέντευξης Ελένης Γεωργίου</tspan><tspan x="16" y="110">ea:identifier:ukey</tspan><tspan x="191" y="110">rg-opidix-3438</tspan><tspan x="16" y="138">ea:obj-type:</tspan><tspan x="191" y="138">digital-item</tspan></text></g>
<g id="node-oi3445" transform="translate(2045,4914)"><rect class="nb" width="509" height="154" rx="14"/><text><tspan x="16" y="26">urn:</tspan><tspan x="191" y="26">oi:3445</tspan><tspan x="16" y="54">traverse:</tspan><tspan x="191" y="54">distance: [1]</tspan><tspan x="339" y="54">ordinal: 3</tspan><tspan x="16" y="82">title::</tspan><tspan x="191" y="82">VSIAF_EGEOR: Παραχωρητήριο</tspan><tspan x="16" y="110">ea:identifier:ukey</tspan><tspan x="191" y="110">rg-opidix-3445</tspan><tspan x="16" y="138">ea:obj-type:</tspan><tspan x="191" y="138">digital-item</tspan></text></g>
<g id="node-oi3447" transform="translate(2070,5093)"><rect class="nb" width="459" height="154" rx="14"/><text><tspan x="16" y="26">urn:</tspan><tspan x="191" y="26">oi:3447</tspan><tspan x="16" y="54">traverse:</tspan><tspan x="191" y="54">distance: [1]</tspan><tspan x="339" y="54">ordinal: 4</tspan><tspan x="16" y="82">title::</tspan><tspan x="191" y="82">VSIAF_EGEOR: Περίληψη</tspan><tspan x="16" y="110">ea:identifier:ukey</tspan><tspan x="191" y="110">rg-opidix-3447</tspan><tspan x="16" y="138">ea:obj-type:</tspan><tspan x="191" y="138">digital-item</tspan></text></g>
<g id="node-oi3450" transform="translate(2070,5271)"><rect class="nb" width="459" height="154" rx="14"/><text><tspan x="16" y="26">urn:</tspan><tspan x="191" y="26">oi:3450</tspan><tspan x="16" y="54">traverse:</tspan><tspan x="191" y="54">distance: [1]</tspan><tspan x="339" y="54">ordinal: 5</tspan><tspan x="16" y="82">title::</tspan><tspan x="191" y="82">VSIAF_EGEOR: Προφίλ</tspan><tspan x="16" y="110">ea:identifier:ukey</tspan><tspan x="191" y="110">rg-opidix-3450</tspan><tspan x="16" y="138">ea:obj-type:</tspan><tspan x="191" y="138">digital-item</tspan></text></g>
<g id="node-oi3955" transform="translate(2054,5449)"><rect class="nb" width="492" height="154" rx="14"/><text><tspan x="16" y="26">urn:</tspan><tspan x="191" y="26">oi:3955</tspan><tspan x="16" y="54">traverse:</tspan><tspan x="191" y="54">distance: [1]</tspan><tspan x="339" y="54">ordinal: 9</tspan><tspan x="16" y="82">title::</tspan><tspan x="191" y="82">VSIAF_EGEORG_VIDEO_720p</tspan><tspan x="16" y="110">ea:identifier:ukey</tspan><tspan x="191" y="110">rg-opidix-3955</tspan><tspan x="16" y="138">ea:obj-type:</tspan><tspan x="191" y="138">digital-item</tspan></text></g>
<g id="node-oi4158" transform="translate(2065,5628)"><rect class="nb" width="470" height="154" rx="14"/><text><tspan x="16" y="26">urn:</tspan><tspan x="191" y="26">oi:4158</tspan><tspan x="16" y="54">traverse:</tspan><tspan x="191" y="54">distance: [1]</tspan><tspan x="339" y="54">ordinal: 10</tspan><tspan x="16" y="82">title::</tspan><tspan x="191" y="82">515_enhanced.jpg</tspan><tspan x="16" y="110">ea:identifier:ukey</tspan><tspan x="191" y="110">rg-opidix-4158</tspan><tspan x="16" y="138">ea:obj-type:</tspan><tspan x="191" y="138">bitstream</tspan></text></g>
<text id="graph-caption" x="2756" y="5804" style="text-anchor:end">root: 515 nodes count: 68</text>
</g>
</svg>
